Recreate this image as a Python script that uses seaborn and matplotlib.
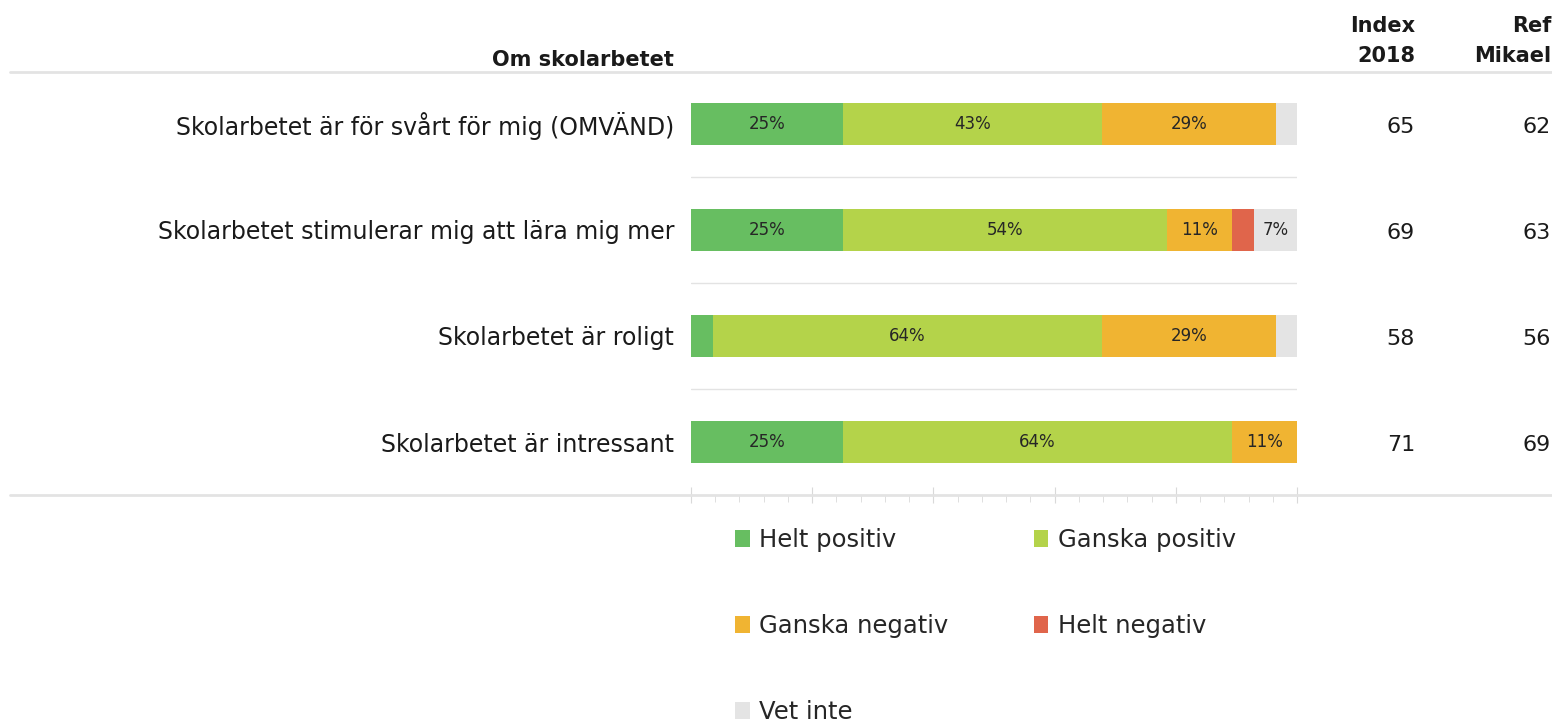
import matplotlib
matplotlib.use("Agg")
import matplotlib.pyplot as plt
import matplotlib.transforms as mtransforms
from matplotlib.lines import Line2D
from matplotlib.patches import Patch
from matplotlib.ticker import MultipleLocator
import pandas as pd
import seaborn as sns

# data (percent of answers)
questions = [
    "Skolarbetet är för svårt för mig (OMVÄND)",
    "Skolarbetet stimulerar mig att lära mig mer",
    "Skolarbetet är roligt",
    "Skolarbetet är intressant",
]
categories = ["Helt positiv", "Ganska positiv", "Ganska negativ", "Helt negativ", "Vet inte"]
helt_positiv = [25.0, 25.0, 3.6, 25.0]
ganska_positiv = [42.9, 53.6, 64.3, 64.3]
ganska_negativ = [28.6, 10.7, 28.6, 10.7]
helt_negativ = [0.0, 3.6, 0.0, 0.0]
vet_inte = [3.6, 7.1, 3.6, 0.0]
index_2018 = [65, 69, 58, 71]
ref_mikael = [62, 63, 56, 69]

colors = ["#67be61", "#b4d34a", "#f0b432", "#e0654b", "#e4e4e4"]

df = pd.DataFrame({
    "question": questions,
    "Helt positiv": helt_positiv,
    "Ganska positiv": ganska_positiv,
    "Ganska negativ": ganska_negativ,
    "Helt negativ": helt_negativ,
    "Vet inte": vet_inte,
})
cum = df[categories].cumsum(axis=1)
cum["question"] = questions

sns.set_style("white")
plt.rcParams["font.family"] = ["DejaVu Sans"]

fig = plt.figure(figsize=(15.52, 7.26), dpi=100)
ax = fig.add_axes([691 / 1552, 1 - 495 / 726, 606 / 1552, 424 / 726])

# stacked bars: draw cumulative totals from the last category backwards
for cat, col in reversed(list(zip(categories, colors))):
    sns.barplot(data=cum, x=cat, y="question", orient="h", color=col,
                saturation=1, width=0.4, linewidth=0, ax=ax)

# percentage labels inside bars
for i in range(len(questions)):
    for cat in categories:
        val = df.loc[i, cat]
        if val >= 5:
            mid = cum.loc[i, cat] - val / 2
            ax.text(mid, i, f"{val:.0f}%", ha="center", va="center",
                    fontsize=12, color="#262626")

# separators between rows
for y in [0.5, 1.5, 2.5]:
    ax.axhline(y, color="#e3e3e3", lw=1, zorder=0)

ax.set_xlim(0, 100)
ax.set_ylim(3.5, -0.5)
ax.set_xlabel("")
ax.set_ylabel("")
for s in ["top", "right", "left", "bottom"]:
    ax.spines[s].set_visible(False)
ax.xaxis.set_major_locator(MultipleLocator(20))
ax.xaxis.set_minor_locator(MultipleLocator(4))
ax.tick_params(axis="x", which="major", direction="inout", length=12,
               color="#d9d9d9", labelbottom=False, bottom=True)
ax.tick_params(axis="x", which="minor", direction="out", length=5,
               color="#d9d9d9", bottom=True)
ax.tick_params(axis="y", length=0, pad=12, labelsize=17, labelcolor="#1a1a1a")

# horizontal rules across the whole figure
fig.add_artist(Line2D([10 / 1552, 1], [1 - 72 / 726] * 2, color="#e3e3e3", lw=2))
fig.add_artist(Line2D([10 / 1552, 1], [1 - 495 / 726] * 2, color="#e3e3e3", lw=2))

# headers
fig.text(674 / 1552, 1 - 60 / 726, "Om skolarbetet", ha="right", va="center",
         fontsize=15, fontweight="bold", color="#1a1a1a")
fig.text(1415 / 1552, 1 - 41 / 726, "Index\n2018", ha="right", va="center",
         fontsize=15, fontweight="bold", color="#1a1a1a", linespacing=1.6)
fig.text(1551 / 1552, 1 - 41 / 726, "Ref\nMikael", ha="right", va="center",
         fontsize=15, fontweight="bold", color="#1a1a1a", linespacing=1.6)

# index columns
trans = mtransforms.blended_transform_factory(fig.transFigure, ax.transData)
for i in range(len(questions)):
    ax.text(1415 / 1552, i + 0.03, str(index_2018[i]), transform=trans, ha="right",
            va="center", fontsize=16, color="#1a1a1a")
    ax.text(1551 / 1552, i + 0.03, str(ref_mikael[i]), transform=trans, ha="right",
            va="center", fontsize=16, color="#1a1a1a")

# legend (column-wise fill: reorder so rows read left to right)
handles = [Patch(facecolor=c, edgecolor="none", label=l) for l, c in zip(categories, colors)]
order = [0, 2, 4, 1, 3]
leg = fig.legend([handles[k] for k in order], [categories[k] for k in order],
                 ncol=2, loc="upper left", bbox_to_anchor=(735 / 1552, 1 - 528 / 726),
                 frameon=False, fontsize=17.5, handlelength=0.6, handleheight=0.7,
                 handletextpad=0.4, labelspacing=2.55, columnspacing=3.5,
                 borderaxespad=0, borderpad=0)

fig.savefig("out.png", dpi=100)
